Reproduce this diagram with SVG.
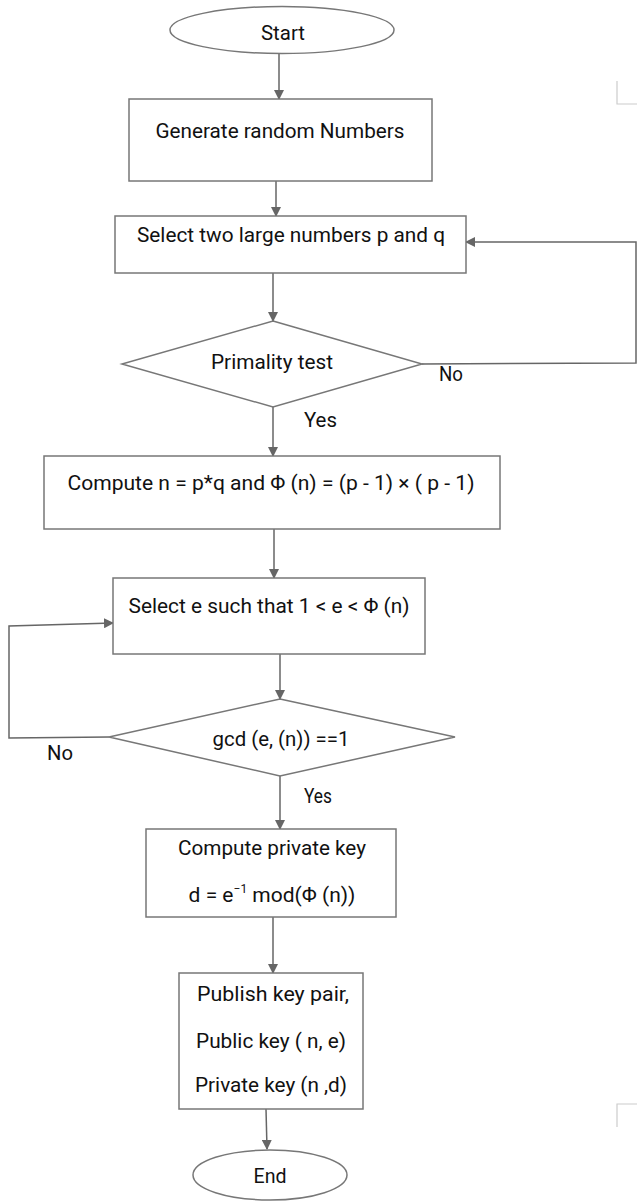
<svg xmlns="http://www.w3.org/2000/svg" width="637" height="1203" viewBox="0 0 637 1203">
<defs>
<marker id="ah" markerWidth="10" markerHeight="10" refX="9" refY="5" orient="auto" markerUnits="userSpaceOnUse">
<path d="M0,0 L10,5 L0,10 Z" fill="#666"/>
</marker>
<style>
.shape{fill:#fff;stroke:#777;stroke-width:1.5}
.conn{fill:none;stroke:#666;stroke-width:1.5}
.t{font-family:Roboto,"Liberation Sans",sans-serif;font-size:21px;fill:#111;text-anchor:middle}
.l{font-family:Roboto,"Liberation Sans",sans-serif;font-size:21px;fill:#111}
.mark{fill:none;stroke:#ccc;stroke-width:1.2}
</style>
</defs>
<rect width="637" height="1203" fill="#fff"/>
<g id="marks">
<path class="mark" d="M617,81 L617,104 L637,104"/>
<path class="mark" d="M617,1127 L617,1104 L637,1104"/>
</g>
<g id="connectors">
<path class="conn" d="M279,53 L279,99" marker-end="url(#ah)"/>
<path class="conn" d="M276,181 L276,216" marker-end="url(#ah)"/>
<path class="conn" d="M273,273 L273,321" marker-end="url(#ah)"/>
<path class="conn" d="M422,364 L636,363 L636,242 L466,242" marker-end="url(#ah)"/>
<path class="conn" d="M273,407 L273,456" marker-end="url(#ah)"/>
<path class="conn" d="M274,529 L274,578" marker-end="url(#ah)"/>
<path class="conn" d="M280,654 L280,699" marker-end="url(#ah)"/>
<path class="conn" d="M109,737 L9,738 L9,626 L113,623" marker-end="url(#ah)"/>
<path class="conn" d="M280,776 L280,829" marker-end="url(#ah)"/>
<path class="conn" d="M273,917 L273,973" marker-end="url(#ah)"/>
<path class="conn" d="M266,1109 L267,1149" marker-end="url(#ah)"/>
</g>
<g id="start">
<ellipse class="shape" cx="282" cy="30" rx="112" ry="23.5"/>
<text class="t" x="283" y="40" textLength="44" lengthAdjust="spacingAndGlyphs">Start</text>
</g>
<g id="generate">
<rect class="shape" x="129" y="99" width="303" height="82"/>
<text class="t" x="280" y="138" textLength="249" lengthAdjust="spacingAndGlyphs">Generate random Numbers</text>
</g>
<g id="select-pq">
<rect class="shape" x="115" y="216" width="351" height="57"/>
<text class="t" x="291" y="242" textLength="308" lengthAdjust="spacingAndGlyphs">Select two large numbers p and q</text>
</g>
<g id="primality">
<path class="shape" d="M273,321 L422,364 L273,407 L122,364 Z"/>
<text class="t" x="272" y="369" textLength="122" lengthAdjust="spacingAndGlyphs">Primality test</text>
<text class="l" x="439" y="381" textLength="24" lengthAdjust="spacingAndGlyphs">No</text>
<text class="l" x="304" y="427" textLength="33" lengthAdjust="spacingAndGlyphs">Yes</text>
</g>
<g id="compute-n">
<rect class="shape" x="44" y="456" width="456" height="73"/>
<text class="t" x="271" y="490" textLength="407" lengthAdjust="spacingAndGlyphs">Compute n = p*q and  Φ (n) = (p - 1) × ( p - 1)</text>
</g>
<g id="select-e">
<rect class="shape" x="113" y="578" width="312" height="76"/>
<text class="t" x="269" y="613" textLength="281" lengthAdjust="spacingAndGlyphs">Select e such that 1 &lt; e &lt; Φ (n)</text>
</g>
<g id="gcd">
<path class="shape" d="M280,699 L455,737 L280,776 L109,737 Z"/>
<text class="t" x="281" y="746" textLength="137" lengthAdjust="spacingAndGlyphs">gcd (e, (n)) ==1</text>
<text class="l" x="47" y="760" textLength="26" lengthAdjust="spacingAndGlyphs">No</text>
<text class="l" x="304" y="803" textLength="28" lengthAdjust="spacingAndGlyphs">Yes</text>
</g>
<g id="private-key">
<rect class="shape" x="146" y="829" width="250" height="88"/>
<text class="t" x="272" y="855" textLength="188" lengthAdjust="spacingAndGlyphs">Compute private key</text>
<text class="t" x="272" y="902">d = e<tspan font-size="12" dy="-9">−1</tspan><tspan dy="9"> mod(Φ (n))</tspan></text>
</g>
<g id="publish">
<rect class="shape" x="179" y="973" width="184" height="136"/>
<text class="t" x="273" y="1001" textLength="152" lengthAdjust="spacingAndGlyphs">Publish key pair,</text>
<text class="t" x="271" y="1048" textLength="150" lengthAdjust="spacingAndGlyphs">Public key ( n, e)</text>
<text class="t" x="271" y="1092" textLength="152" lengthAdjust="spacingAndGlyphs">Private key (n ,d)</text>
</g>
<g id="end">
<ellipse class="shape" cx="270" cy="1175" rx="77" ry="25"/>
<text class="t" x="270" y="1183" textLength="33" lengthAdjust="spacingAndGlyphs">End</text>
</g>
</svg>
